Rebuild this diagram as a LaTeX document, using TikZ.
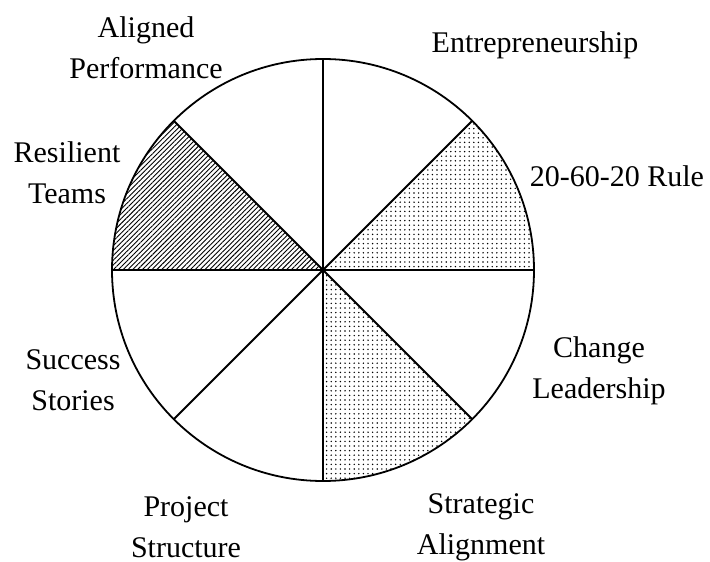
\documentclass[tikz,border=0pt]{standalone}
\usepackage{fontspec}
\setmainfont{Liberation Serif}
\usetikzlibrary{patterns.meta}
\tikzset{rim/.style={draw=black,line width=0.9pt}}
\tikzset{spoke/.style={draw=black,line width=0.9pt}}
\tikzset{hatched/.style={pattern={Lines[angle=45,distance=1.7pt,line width=0.45pt]},pattern color=black}}
\tikzset{dotted slice/.style={pattern={Dots[radius=0.4pt,distance=2.3pt]},pattern color=black}}
\tikzset{topic/.style={align=center,inner sep=0pt,font=\fontsize{15}{20.5}\selectfont}}
\newcommand{\rad}{105.5pt}

\begin{document}
\begin{tikzpicture}[
		x=1pt, y=1pt, % coordinates in points
		line join=round
		]
		\useasboundingbox (-161.5,-145.5) rectangle (193.5,135);
		
		\coordinate (c) at (0,0);
		
		% Shaded slices
		\fill[hatched] (c) -- (180:\rad) arc[start angle=180, end angle=135, radius=\rad] -- cycle;
		\fill[dotted slice] (c) -- (0:\rad) arc[start angle=0, end angle=45, radius=\rad] -- cycle;
		\fill[dotted slice] (c) -- (270:\rad) arc[start angle=270, end angle=315, radius=\rad] -- cycle;
		
		% Wheel
		\draw[rim] (c) circle[radius=\rad];
		\foreach \a in {0,45,...,315}
		\draw[spoke] (c) -- (\a:\rad);
		
		% Labels
		\node[topic] (perf) at (-88.5,111) {Aligned\\Performance};
		\node[topic] (entr) at (106,112.5) {Entrepreneurship};
		\node[topic] (rule) at (147,47) {20-60-20 Rule};
		\node[topic] (team) at (-128,48.5) {Resilient\\Teams};
		\node[topic] (succ) at (-125,-55) {Success\\Stories};
		\node[topic] (chng) at (138,-50.5) {Change\\Leadership};
		\node[topic] (proj) at (-68.5,-128.5) {Project\\Structure};
		\node[topic] (strt) at (79,-128.5) {Strategic\\Alignment};
\end{tikzpicture}
\end{document}
